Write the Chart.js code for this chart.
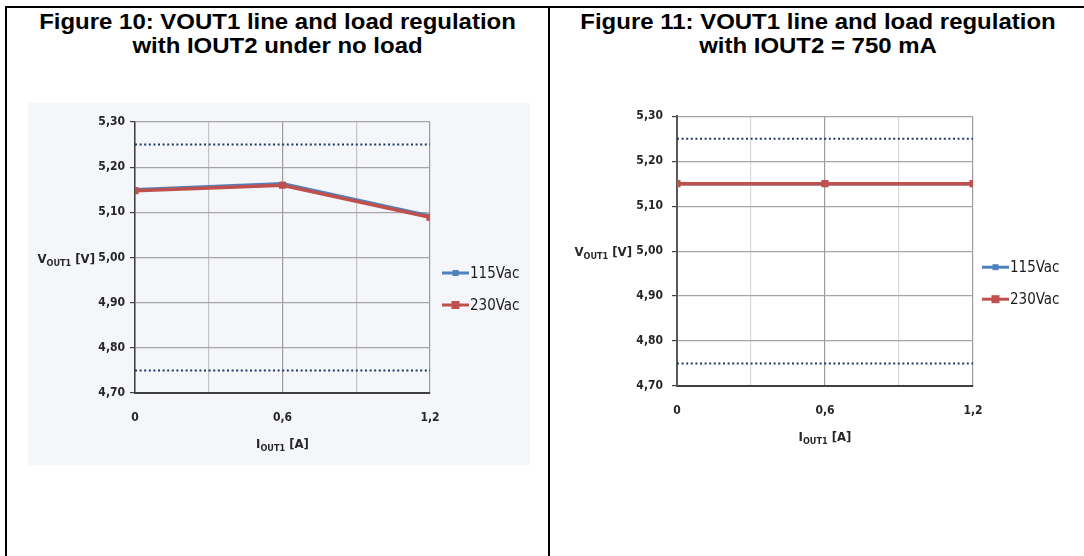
<!DOCTYPE html>
<html>
<head>
<meta charset="utf-8">
<script src="https://cdn.jsdelivr.net/npm/chart.js@4.4.1/dist/chart.umd.min.js"></script>
<style>
  html, body { margin: 0; padding: 0; background: #fff; width: 1084px; height: 556px; overflow: hidden; }
  .rule { position: absolute; background: #000; }
  .title { position: absolute; top: 10px; font: bold 22.5px "Liberation Sans", Arial, sans-serif;
           text-align: center; line-height: 24px; color: #000; white-space: nowrap;
           transform: scaleX(1.065); transform-origin: 50% 50%; }
  canvas { position: absolute; }
</style>
</head>
<body>
<div class="rule" style="left:5px;top:6px;width:1079px;height:2px"></div>
<div class="rule" style="left:5px;top:6px;width:2px;height:550px"></div>
<div class="rule" style="left:548px;top:6px;width:2px;height:550px"></div>
<div class="title" style="left:7px;width:541px">Figure 10: VOUT1 line and load regulation<br>with IOUT2 under no load</div>
<div class="title" style="left:550px;width:536px">Figure 11: VOUT1 line and load regulation<br>with IOUT2 = 750 mA</div>
<div style="position:absolute;left:28px;top:103px;width:502px;height:362px;background:#f4f6f9"></div>
<canvas id="fig10" width="502" height="362" style="left:28px;top:103px;width:502px;height:362px"></canvas>
<canvas id="fig11" width="520" height="350" style="left:560px;top:100px;width:520px;height:350px"></canvas>
<script>
// Output current steps (A)
const loadCurrent = [0, 0.6, 1.2];
// Series names
const seriesNames = ['115Vac', '230Vac'];
// Figure 10: IOUT2 at no load (V)
const fig10Vac115 = [5.15, 5.163, 5.092];
const fig10Vac230 = [5.148, 5.16, 5.089];
// Figure 11: IOUT2 = 750 mA (V)
const fig11Vac115 = [5.15, 5.15, 5.15];
const fig11Vac230 = [5.15, 5.15, 5.15];
// Regulation limits (V)
const upperLimit = [5.25, 5.25, 5.25];
const lowerLimit = [4.75, 4.75, 4.75];
// Axis ranges and labelled ticks
const xLabelTicks = [0, 0.6, 1.2];
const yRange = [4.7, 5.3];

const BLUE = '#4f81bd';
const RED = '#c0504d';
const NAVY = '#1f3864';
const TICK_FONT = '"DejaVu Sans Condensed", "DejaVu Sans", sans-serif';
const LEGEND_FONT = '"Liberation Sans Narrow", "DejaVu Sans Condensed", sans-serif';

const pts = arr => arr.map((v, i) => ({ x: loadCurrent[i], y: v }));
const comma = (v, d) => v.toFixed(d).replace('.', ',');

// Draws the horizontal axis titles (with subscripts) and the side legend
const extrasPlugin = {
  id: 'extras',
  afterDraw(chart, args, opts) {
    const ctx = chart.ctx;
    const area = chart.chartArea;
    const ys = chart.scales.y;
    ctx.save();
    ctx.fillStyle = '#262626';
    ctx.textBaseline = 'alphabetic';
    const big = 'bold 13px ' + TICK_FONT;
    const small = 'bold 9px ' + TICK_FONT;
    const drawSub = (main, sub, tail, x, yMid, align) => {
      ctx.font = big; const w1 = ctx.measureText(main).width; const w3 = ctx.measureText(tail).width;
      ctx.font = small; const w2 = ctx.measureText(sub).width;
      const total = w1 + w2 + w3;
      let x0 = align === 'right' ? x - total : x - total / 2;
      const base = yMid + 5;
      ctx.font = big; ctx.fillText(main, x0, base);
      ctx.font = small; ctx.fillText(sub, x0 + w1, base + 3);
      ctx.font = big; ctx.fillText(tail, x0 + w1 + w2, base);
    };
    // vertical axis title, level with the 5,00 tick
    drawSub('V', 'OUT1', ' [V]', area.left - opts.yTitleGap, ys.getPixelForValue(5.0), 'right');
    // horizontal axis title
    drawSub('I', 'OUT1', ' [A]', (area.left + area.right) / 2, area.bottom + 50, 'center');

    // legend
    const lx = area.right + opts.legendGap;
    const items = chart.data.datasets.filter(d => d.inLegend);
    items.sort((a, b) => seriesNames.indexOf(a.label) - seriesNames.indexOf(b.label));
    items.forEach((d, i) => {
      const y = area.top + 151 + i * 32;
      ctx.strokeStyle = d.borderColor;
      ctx.lineWidth = 3;
      ctx.beginPath(); ctx.moveTo(lx, y); ctx.lineTo(lx + 27, y); ctx.stroke();
      ctx.fillStyle = d.borderColor;
      const s = d.label === '115Vac' ? 6 : 8;
      ctx.fillRect(lx + 13.5 - s / 2, y - s / 2, s, s);
      ctx.fillStyle = '#1a1a1a';
      ctx.font = '15px ' + LEGEND_FONT;
      ctx.textBaseline = 'middle';
      ctx.fillText(d.label, lx + 28, y + 1);
      ctx.textBaseline = 'alphabetic';
    });
    ctx.restore();
  }
};

function buildChart(id, v115, v230, lay) {
  const near = (a, b) => Math.abs(a - b) < 1e-6;
  return new Chart(document.getElementById(id), {
    type: 'line',
    data: {
      datasets: [
        { label: seriesNames[1], data: pts(v230), inLegend: true, order: 0,
          borderColor: RED, backgroundColor: RED, borderWidth: 3.5,
          pointStyle: 'rect', pointRadius: 5, pointBorderWidth: 0 },
        { label: seriesNames[0], data: pts(v115), inLegend: true, order: 1,
          borderColor: BLUE, backgroundColor: BLUE, borderWidth: 3.5,
          pointStyle: 'rect', pointRadius: 3, pointBorderWidth: 0 },
        { label: 'upper', data: pts(upperLimit), order: 2, borderColor: NAVY,
          borderWidth: 2, borderDash: [2, 2.6], pointRadius: 0 },
        { label: 'lower', data: pts(lowerLimit), order: 2, borderColor: NAVY,
          borderWidth: 2, borderDash: [2, 2.6], pointRadius: 0 }
      ]
    },
    options: {
      responsive: false,
      animation: false,
      layout: { padding: { top: lay.padTop, right: lay.padRight, left: 0, bottom: 0 } },
      plugins: {
        legend: { display: false },
        tooltip: { enabled: false },
        extras: { yTitleGap: lay.yTitleGap, legendGap: lay.legendGap }
      },
      scales: {
        x: {
          type: 'linear', min: loadCurrent[0], max: loadCurrent[loadCurrent.length - 1],
          afterFit: s => { s.height = lay.xHeight; },
          ticks: {
            stepSize: 0.3, padding: 18, color: '#262626',
            font: { family: TICK_FONT, size: 12, weight: 'bold' },
            maxRotation: 0,
            callback: v => xLabelTicks.some(t => near(t, v)) ? comma(Number(v.toFixed(1)), v === 0 ? 0 : 1) : ''
          },
          grid: {
            drawTicks: false, lineWidth: 1.2,
            color: c => (c.tick && (near(c.tick.value, 0.3) || near(c.tick.value, 0.9))) ? lay.minorGrid : '#9c9c9c'
          },
          border: { color: '#404040', width: 2 }
        },
        y: {
          min: yRange[0], max: yRange[1],
          afterFit: s => { s.width = lay.yWidth; },
          ticks: {
            stepSize: 0.1, padding: lay.yPad, color: '#262626',
            font: { family: TICK_FONT, size: 12, weight: 'bold' },
            callback: v => comma(v, 2)
          },
          grid: { color: '#a6a6a6', lineWidth: 1.2, tickLength: 5, tickColor: '#404040' },
          border: { color: lay.yAxisColor, width: lay.yAxisWidth }
        }
      }
    },
    plugins: [extrasPlugin]
  });
}

buildChart('fig10', fig10Vac115, fig10Vac230, {
  padTop: 19, padRight: 100, xHeight: 72, yWidth: 107, yPad: 5,
  yTitleGap: 40, legendGap: 12, minorGrid: '#c4c4c4', yAxisColor: '#404040', yAxisWidth: 1.5
});
buildChart('fig11', fig11Vac115, fig11Vac230, {
  padTop: 16, padRight: 107, xHeight: 64, yWidth: 117, yPad: 9,
  yTitleGap: 45, legendGap: 9, minorGrid: '#d9d9d9', yAxisColor: '#595959', yAxisWidth: 2
});
</script>
</body>
</html>
